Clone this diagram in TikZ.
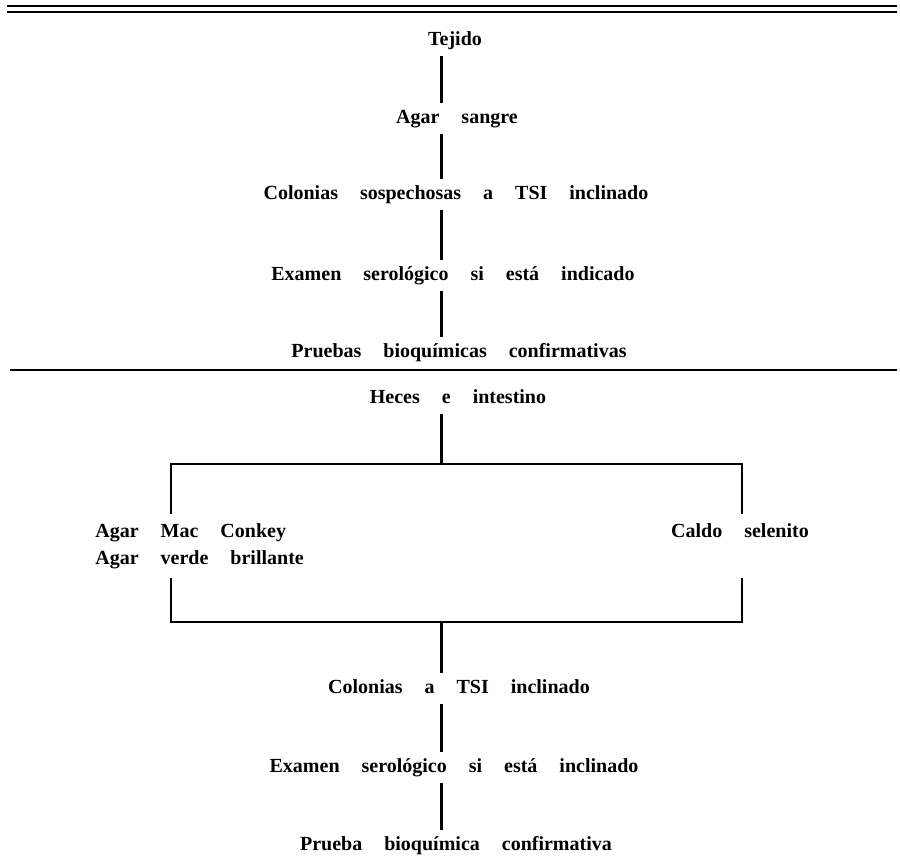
\documentclass[tikz,border=0pt]{standalone}
\usepackage{fontspec}
\setmainfont{Liberation Serif}[WordSpace=4.4]
\begin{document}
\begin{tikzpicture}[x=0.5pt,y=-0.5pt,
  letra/.style={font=\fontsize{10}{13.5}\selectfont\bfseries},
  paso/.style={letra,inner sep=3pt,text height=7pt,text depth=2.25pt},
  enlace/.style={line width=1.5pt},
  corchete/.style={line width=1.3pt},
  raya/.style={line width=1.3pt}]
\useasboundingbox (0,0) rectangle (900,864);
% rayas
\draw[raya] (7,6) -- (897,6);
\draw[raya] (7,12) -- (897,12);
\draw[raya] (10,370) -- (897,370);
\coordinate (eje) at (441,0);
% tejido
\node[paso,anchor=base] (tejido) at (455,45) {Tejido};
\node[paso,anchor=base] (sangre) at (457,123) {Agar sangre};
\node[paso,anchor=base] (colsosp) at (456,199) {Colonias sospechosas a TSI inclinado};
\node[paso,anchor=base] (sero) at (453,280) {Examen serológico si está indicado};
\node[paso,anchor=base] (bioq) at (459,357) {Pruebas bioquímicas confirmativas};
% heces
\node[paso,anchor=base] (heces) at (458,403) {Heces e intestino};
\node[letra,align=left,inner xsep=3pt,inner ysep=4.5pt,anchor=north west]
  (mac) at (89,514) {Agar Mac Conkey\\Agar verde brillante};
\node[paso,anchor=base] (caldo) at (740,537) {Caldo selenito};
\node[paso,anchor=base] (colta) at (459,693) {Colonias a TSI inclinado};
\node[paso,anchor=base] (serob) at (454,772) {Examen serológico si está inclinado};
\node[paso,anchor=base] (bioqb) at (456,850) {Prueba bioquímica confirmativa};
\foreach \a/\b in {tejido/sangre,sangre/colsosp,colsosp/sero,sero/bioq,colta/serob,serob/bioqb}
  \draw[enlace] (\a.south -| eje) -- (\b.north -| eje);
% corchete
\coordinate (bsi) at (171,464);
\coordinate (bsd) at (742,464);
\coordinate (bii) at (171,622);
\coordinate (bid) at (742,622);
\draw[corchete] (bsi |- mac.north) -- (bsi) -- (bsd) -- (bsd |- mac.north);
\draw[corchete] (bii |- mac.south) -- (bii) -- (bid) -- (bid |- mac.south);
\draw[enlace] (heces.south -| eje) -- (eje |- bsi);
\draw[enlace] (eje |- bii) -- (colta.north -| eje);
\end{tikzpicture}
\end{document}
